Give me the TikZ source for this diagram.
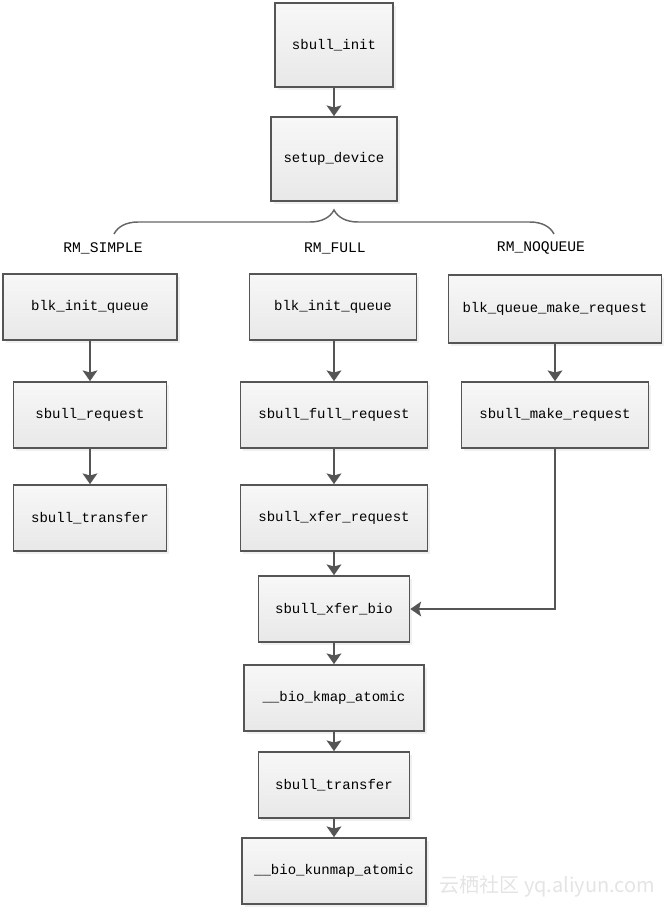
\documentclass[tikz,border=0pt]{standalone}
\usepackage{fontspec}
\setmonofont{Liberation Mono}
\newfontfamily\cjk{Noto Sans CJK SC}
\usetikzlibrary{arrows.meta,shadows,decorations.pathreplacing}
\definecolor{edgegray}{HTML}{555555}
\definecolor{bracegray}{HTML}{666666}
\definecolor{wmgray}{HTML}{E4E4E4}
\tikzset{
  box/.style={draw=edgegray, line width=1.3pt, top color=white!97!black, bottom color=white!91!black,
    font=\ttfamily\fontsize{10.5}{12}\selectfont, inner sep=2pt,
    drop shadow={opacity=0.12, shadow xshift=2pt, shadow yshift=-2pt}},
  arr/.style={draw=edgegray, line width=1.4pt, -{Stealth[length=8pt,width=11pt,inset=1.5pt]}},
  mode/.style={font=\ttfamily\fontsize{11}{13}\selectfont}
}

\begin{document}
\begin{tikzpicture}[x=0.75pt,y=-0.75pt]
\useasboundingbox (0,0) rectangle (669,914);
\newcommand{\blk}[6]{\node[box, minimum width=#4pt, minimum height=#5pt] (#1) at (#2,#3) {#6};}
% top
\blk{init}{334}{45}{88.5}{63}{sbull\_init}
\blk{setup}{334}{159}{94.5}{63}{setup\_device}
% brace and modes
\draw[bracegray, line width=1.1pt, decorate, decoration={brace, amplitude=18pt}] (114,234) -- (554,234);
\node[mode] (simple) at (103,248) {RM\_SIMPLE};
\node[mode] (full) at (335,248) {RM\_FULL};
\node[mode] (noqueue) at (541,248) {RM\_NOQUEUE};
% RM_SIMPLE
\blk{sq}{90}{307}{130.5}{49.5}{blk\_init\_queue}
\blk{sreq}{90}{415}{114.75}{49.5}{sbull\_request}
\blk{strans}{90}{518}{114.75}{49.5}{sbull\_transfer}
% RM_FULL
\blk{fq}{333}{307}{125.25}{49.5}{blk\_init\_queue}
\blk{freq}{334}{415}{140.25}{49.5}{sbull\_full\_request}
\blk{xreq}{334}{518}{140.25}{49.5}{sbull\_xfer\_request}
\blk{xbio}{334}{609}{113.25}{49.5}{sbull\_xfer\_bio}
\blk{kmap}{334}{698}{135}{49.5}{\_\_bio\_kmap\_atomic}
\blk{ftrans}{334}{785}{113.25}{49.5}{sbull\_transfer}
\blk{kunmap}{334}{871}{138}{49.5}{\_\_bio\_kunmap\_atomic}
% RM_NOQUEUE
\blk{nq}{555}{309}{159.75}{51}{blk\_queue\_make\_request}
\blk{mreq}{555}{415}{140.25}{49.5}{sbull\_make\_request}
% arrows
\draw[arr] (init) -- (setup);
\draw[arr] (sq) -- (sreq);
\draw[arr] (sreq) -- (strans);
\draw[arr] (fq.south -| freq) -- (freq);
\draw[arr] (freq) -- (xreq);
\draw[arr] (xreq) -- (xbio);
\draw[arr] (xbio) -- (kmap);
\draw[arr] (kmap) -- (ftrans);
\draw[arr] (ftrans) -- (kunmap);
\draw[arr] (nq) -- (mreq);
\draw[arr] (mreq.south) |- (xbio.east);
% watermark
\node[text=wmgray, font=\cjk\fontsize{15}{17}\selectfont, anchor=east] (mark) at (660,886) {云栖社区 yq.aliyun.com};
\end{tikzpicture}
\end{document}
